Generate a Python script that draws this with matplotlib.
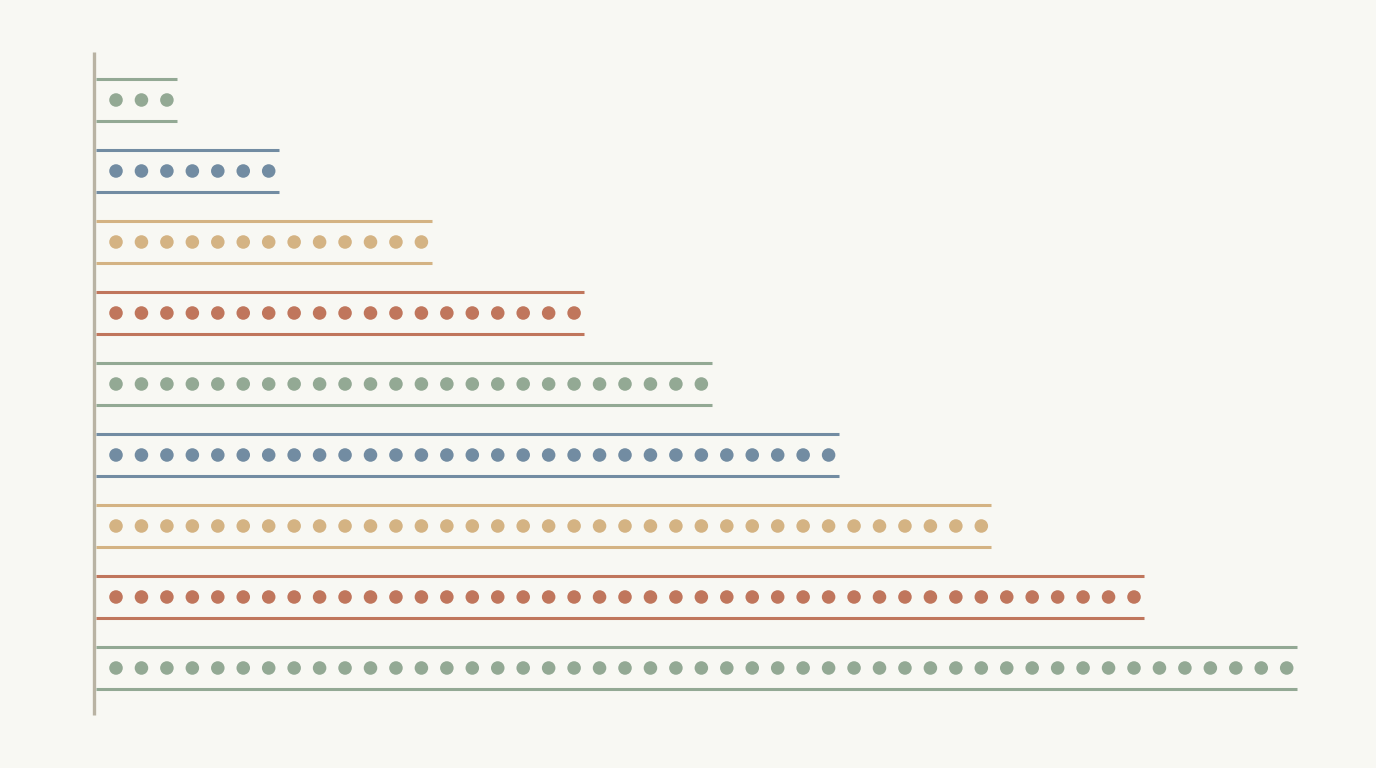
import matplotlib
matplotlib.use("Agg")
import matplotlib.pyplot as plt

# dots per row, top to bottom
counts = [3, 7, 13, 19, 24, 29, 35, 41, 47]
palette = ["#93a994", "#728ca2", "#d4b383", "#c0765c"]
row_colors = [palette[i % 4] for i in range(len(counts))]

bg = "#f8f8f3"
axis_color = "#b9b3a3"

fig = plt.figure(figsize=(13.76, 7.68), dpi=100, facecolor=bg)
ax = fig.add_axes([0, 0, 1, 1])
ax.set_facecolor(bg)

step = 25.45   # pixels per dot
row_h = 71.0   # pixels per row
ax.set_xlim((0 - 116) / step, (1376 - 116) / step)
ax.set_ylim((768 - 100) / row_h, (0 - 100) / row_h)
ax.axis("off")

# axis line on the left
ax.plot([-0.865, -0.865], [-0.68, 8.66], color=axis_color, lw=2.4,
        solid_capstyle="butt")

for r, (n, c) in enumerate(zip(counts, row_colors)):
    x0 = -0.8
    x1 = n - 1 + 0.4
    for dy in (-0.3, 0.3):
        ax.plot([x0, x1], [r + dy, r + dy], color=c, lw=2.2,
                solid_capstyle="butt")
    ax.scatter(range(n), [r] * n, s=95, color=c, edgecolors="none", zorder=3)

fig.savefig("out.png", dpi=100, facecolor=bg)
